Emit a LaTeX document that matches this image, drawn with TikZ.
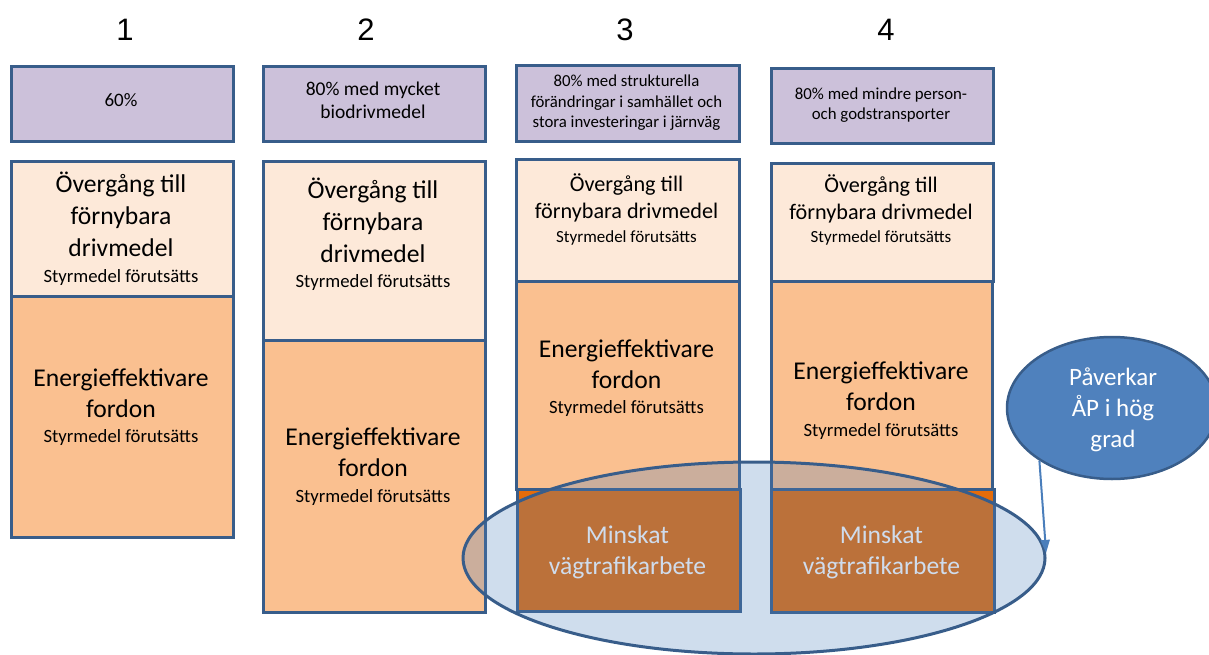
\documentclass[tikz,border=0pt]{standalone}
\usepackage{fontspec}
\setmainfont{Carlito}
\newfontfamily\numfont{Liberation Sans}
\usetikzlibrary{shapes.geometric,arrows.meta}
\definecolor{bordc}{HTML}{385D8A}
\definecolor{purp}{HTML}{CCC1DA}
\definecolor{lightor}{HTML}{FDE9D9}
\definecolor{midor}{HTML}{FAC090}
\definecolor{brightor}{HTML}{E46C0A}
\definecolor{bluef}{HTML}{4F81BD}
\definecolor{arrc}{HTML}{4A7EBB}
\newcommand\mlines[3]{\fontsize{#1}{#2}\selectfont\begin{tabular}[t]{@{}c@{}}#3\end{tabular}}
\begin{document}
\begin{tikzpicture}[x=1pt,y=-1pt,
  boxs/.style={draw=bordc, line width=3pt, inner sep=0pt, anchor=north west},
  txt/.style={anchor=base, inner sep=0pt},
  num/.style={anchor=base, inner sep=0pt, font=\numfont\fontsize{31}{36}\selectfont}]
\useasboundingbox (0,0) rectangle (1209,655);

% column numbers
\node[num] (n1) at (125,41) {1};
\node[num] (n2) at (366,41) {2};
\node[num] (n3) at (625,41) {3};
\node[num] (n4) at (886,41) {4};

% column 1
\node[boxs, fill=purp, minimum width=222pt, minimum height=75pt] (p1) at (10,65) {};
\node[boxs, fill=lightor, minimum width=222pt, minimum height=135pt] (l1) at (10,160) {};
\node[boxs, fill=midor, minimum width=222pt, minimum height=241pt] (e1) at (10,295) {};
\node[txt] (p1t) at (121,107) {\mlines{19}{23}{60\%}};
\node[txt] (l1t) at (121,193) {\mlines{25.6}{31.5}{Övergång till\\förnybara\\drivmedel}};
\node[txt] (l1s) at (121,282) {\mlines{18.7}{22}{Styrmedel förutsätts}};
\node[txt] (e1t) at (121,386) {\mlines{25.6}{31.5}{Energieffektivare\\fordon}};
\node[txt] (e1s) at (121,442) {\mlines{18.7}{22}{Styrmedel förutsätts}};

% column 2
\node[boxs, fill=purp, minimum width=222pt, minimum height=75pt] (p2) at (262,65) {};
\node[boxs, fill=lightor, minimum width=222pt, minimum height=179pt] (l2) at (262,160) {};
\node[boxs, fill=midor, minimum width=222pt, minimum height=272pt] (e2) at (262,339) {};
\node[txt] (p2t) at (373,96) {\mlines{19.5}{23}{80\% med mycket\\biodrivmedel}};
\node[txt] (l2t) at (373,199) {\mlines{25.6}{31.5}{Övergång till\\förnybara\\drivmedel}};
\node[txt] (l2s) at (373,287) {\mlines{18.7}{22}{Styrmedel förutsätts}};
\node[txt] (e2t) at (373,445) {\mlines{25.6}{31.5}{Energieffektivare\\fordon}};
\node[txt] (e2s) at (373,502) {\mlines{18.7}{22}{Styrmedel förutsätts}};

% column 3
\node[boxs, fill=purp, minimum width=223pt, minimum height=76pt] (p3) at (515,64) {};
\node[boxs, fill=lightor, minimum width=223pt, minimum height=122pt] (l3) at (515,158) {};
\node[boxs, fill=midor, minimum width=223pt, minimum height=208pt] (e3) at (515,280) {};
\node[boxs, fill=brightor, minimum width=223pt, minimum height=122pt] (b3) at (516,488) {};
\node[txt] (p3t) at (626.5,87) {\mlines{16.8}{20.5}{80\% med strukturella\\förändringar i samhället och\\stora investeringar i järnväg}};
\node[txt] (l3t) at (626.5,192) {\mlines{22.2}{26.5}{Övergång till\\förnybara drivmedel}};
\node[txt] (l3s) at (626.5,242) {\mlines{17}{20}{Styrmedel förutsätts}};
\node[txt] (e3t) at (626.5,357) {\mlines{25.6}{31.5}{Energieffektivare\\fordon}};
\node[txt] (e3s) at (626.5,413) {\mlines{18.7}{22}{Styrmedel förutsätts}};
\node[txt, text=white] (b3t) at (627.5,543) {\mlines{25.6}{31.5}{Minskat\\vägtrafikarbete}};

% column 4
\node[boxs, fill=purp, minimum width=222pt, minimum height=75pt] (p4) at (770,67) {};
\node[boxs, fill=lightor, minimum width=222pt, minimum height=118pt] (l4) at (770,162) {};
\node[boxs, fill=midor, minimum width=221pt, minimum height=208pt] (e4) at (770,280) {};
\node[boxs, fill=brightor, minimum width=223pt, minimum height=123pt] (b4) at (770,488) {};
\node[txt] (p4t) at (881,100) {\mlines{16.8}{20}{80\% med mindre person-\\och godstransporter}};
\node[txt] (l4t) at (881,193) {\mlines{22.2}{26.5}{Övergång till\\förnybara drivmedel}};
\node[txt] (l4s) at (881,242) {\mlines{17}{20}{Styrmedel förutsätts}};
\node[txt] (e4t) at (881,379) {\mlines{25.6}{31.5}{Energieffektivare\\fordon}};
\node[txt] (e4s) at (881,436) {\mlines{18.7}{22}{Styrmedel förutsätts}};
\node[txt, text=white] (b4t) at (881.5,543) {\mlines{25.6}{31.5}{Minskat\\vägtrafikarbete}};

% translucent ellipse
\node[ellipse, draw=bordc, line width=3pt, fill=bluef, fill opacity=0.27, draw opacity=1,
      minimum width=582pt, minimum height=192pt, inner sep=0pt] (red) at (754,558) {};

% callout ellipse
\node[ellipse, draw=bordc, line width=2.5pt, fill=bluef,
      minimum width=210pt, minimum height=142pt, inner sep=0pt] (pav) at (1112,408) {};
\node[txt, text=white] (pavt) at (1113,385) {\mlines{25}{31}{Påverkar\\ÅP i hög\\grad}};

\draw[arrc, line width=2pt, -{Triangle[length=13pt,width=9pt]}] (pav.216) -- (red.1);
\end{tikzpicture}
\end{document}
